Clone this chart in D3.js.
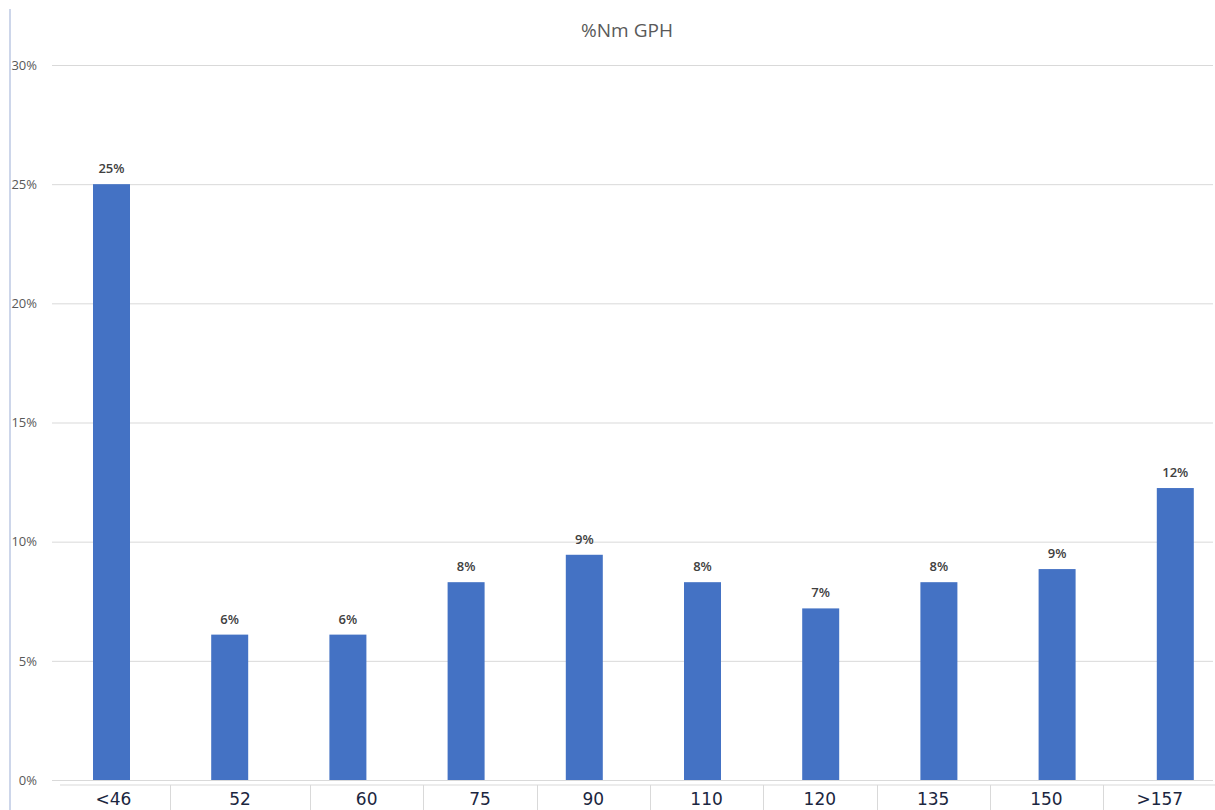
<!DOCTYPE html>
<html>
<head>
<meta charset="utf-8">
<script src="https://cdn.jsdelivr.net/npm/d3@7"></script>
<style>
  html, body { margin: 0; padding: 0; background: #fff; }
  svg { display: block; }
</style>
</head>
<body>
<svg id="chart" width="1215" height="810"></svg>
<script>
// Share of records per GPH bucket
const title = "%Nm GPH";
const categories = ["<46", "52", "60", "75", "90", "110", "120", "135", "150", ">157"];
const shares = [0.25, 0.061, 0.061, 0.083, 0.0945, 0.083, 0.072, 0.083, 0.0885, 0.1225];
const yTicks = [0, 0.05, 0.10, 0.15, 0.20, 0.25, 0.30];

const W = 1215, H = 810;
const svg = d3.select("#chart");

const plot = { left: 52, right: 1213, top: 65, bottom: 780 };

const x = d3.scaleBand()
  .domain(categories)
  .range([52.4, 1234.4])
  .paddingInner(0.687)
  .paddingOuter(0.3435);

const y = d3.scaleLinear()
  .domain([0, 0.30])
  .range([plot.bottom, plot.top]);

const pct = d3.format(".0%");

// left frame line
svg.append("line")
  .attr("x1", 10).attr("x2", 10)
  .attr("y1", 9).attr("y2", H)
  .attr("stroke", "#cdd6ea").attr("stroke-width", 2);

// title
svg.append("text")
  .attr("x", 627).attr("y", 37)
  .attr("text-anchor", "middle")
  .attr("font-family", "'Open Sans', sans-serif")
  .attr("font-size", 19)
  .attr("fill", "#595959")
  .text(title);

// gridlines + y labels
const yAxis = d3.axisLeft(y)
  .tickValues(yTicks)
  .tickFormat(pct)
  .tickSize(-(plot.right - plot.left))
  .tickPadding(15);

const gy = svg.append("g")
  .attr("transform", `translate(${plot.left},0)`)
  .call(yAxis);
gy.select(".domain").remove();
gy.selectAll(".tick line").attr("stroke", "#d9d9d9").attr("stroke-width", 1);
gy.selectAll(".tick text")
  .attr("font-family", "'Open Sans', sans-serif")
  .attr("font-size", 13)
  .attr("fill", "#595959");

// bars
svg.append("g").selectAll("rect")
  .data(categories)
  .join("rect")
  .attr("x", d => x(d))
  .attr("width", x.bandwidth())
  .attr("y", (d, i) => y(shares[i]))
  .attr("height", (d, i) => y(0) - y(shares[i]))
  .attr("fill", "#4472c4");

// value labels
svg.append("g").selectAll("text")
  .data(categories)
  .join("text")
  .attr("x", d => x(d) + x.bandwidth() / 2)
  .attr("y", (d, i) => y(shares[i]) - 11)
  .attr("text-anchor", "middle")
  .attr("font-family", "'Open Sans', sans-serif")
  .attr("font-size", 13)
  .attr("font-weight", 600)
  .attr("fill", "#404040")
  .text((d, i) => pct(shares[i]));

// category row underneath the chart
const rowTop = 785;
const firstCols = [57, 170, 310];
const colStep = 113.3;
const edges = firstCols.concat(d3.range(1, categories.length - 1).map(k => 310 + k * colStep));

svg.append("line")
  .attr("x1", 60).attr("x2", W)
  .attr("y1", rowTop).attr("y2", rowTop)
  .attr("stroke", "#d9d9d9").attr("stroke-width", 1);

svg.append("g").selectAll("line")
  .data(edges.slice(1))
  .join("line")
  .attr("x1", d => Math.round(d) + 0.5).attr("x2", d => Math.round(d) + 0.5)
  .attr("y1", rowTop).attr("y2", H)
  .attr("stroke", "#d9d9d9").attr("stroke-width", 1);

svg.append("g").selectAll("text")
  .data(categories)
  .join("text")
  .attr("x", (d, i) => (edges[i] + edges[i + 1]) / 2)
  .attr("y", 805)
  .attr("text-anchor", "middle")
  .attr("font-family", "'DejaVu Sans', sans-serif")
  .attr("font-size", 17)
  .attr("fill", "#1b2640")
  .text(d => d);
</script>
</body>
</html>
